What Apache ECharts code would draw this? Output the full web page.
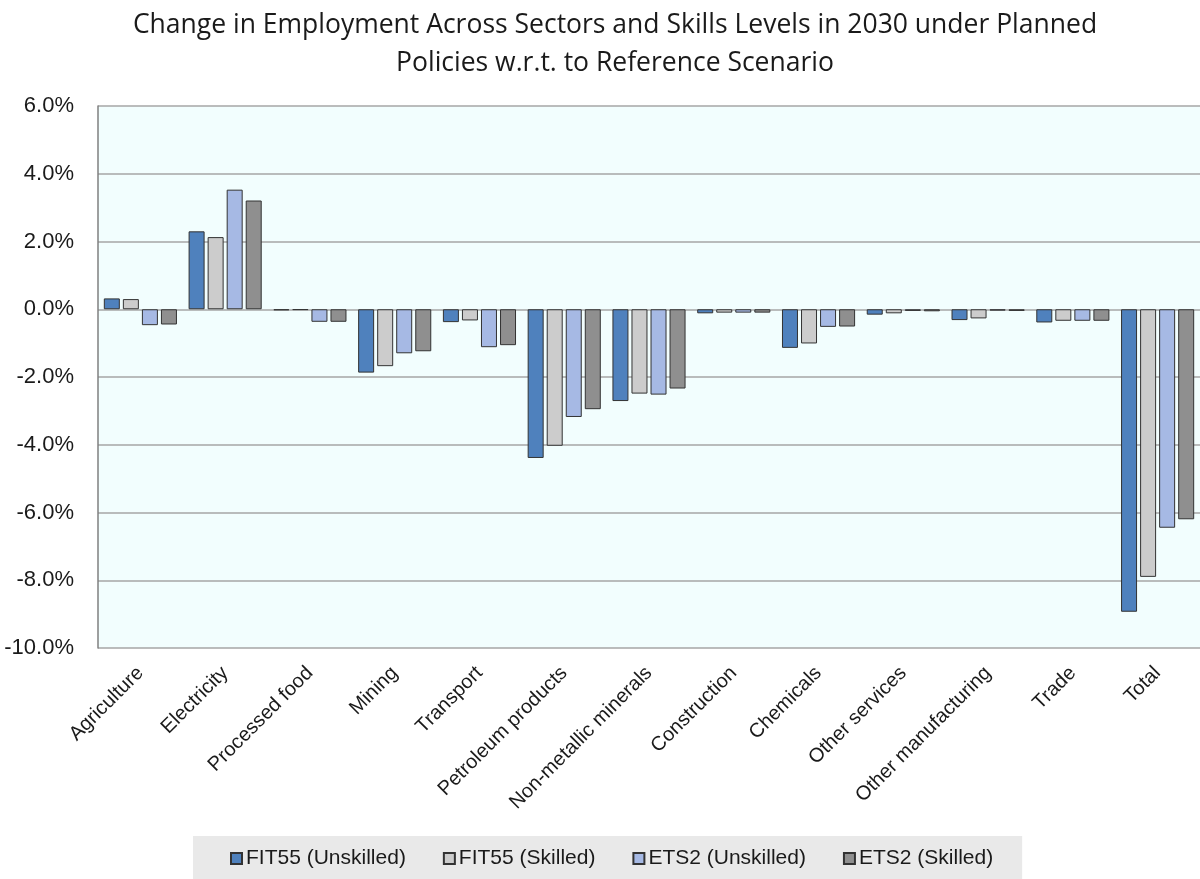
<!DOCTYPE html>
<html>
<head>
<meta charset="utf-8">
<script src="https://cdn.jsdelivr.net/npm/echarts@6/dist/echarts.min.js"></script>
<style>
html,body{margin:0;padding:0;background:#fff;}
#c{width:1200px;height:879px;}
</style>
</head>
<body>
<div id="c"></div>
<script>
const categories = ["Agriculture","Electricity","Processed food","Mining","Transport","Petroleum products","Non-metallic minerals","Construction","Chemicals","Other services","Other manufacturing","Trade","Total"];
const fit55Unskilled = [0.32, 2.30, -0.03, -1.87, -0.38, -4.39, -2.71, -0.12, -1.14, -0.16, -0.32, -0.39, -8.93];
const fit55Skilled   = [0.30, 2.13, -0.02, -1.68, -0.33, -4.03, -2.49, -0.10, -1.01, -0.12, -0.27, -0.34, -7.90];
const ets2Unskilled  = [-0.47, 3.53, -0.37, -1.30, -1.12, -3.18, -2.52, -0.10, -0.52, -0.05, -0.04, -0.34, -6.45];
const ets2Skilled    = [-0.45, 3.21, -0.37, -1.24, -1.06, -2.95, -2.34, -0.10, -0.51, -0.06, -0.05, -0.34, -6.20];
const seriesNames = ["FIT55 (Unskilled)","FIT55 (Skilled)","ETS2 (Unskilled)","ETS2 (Skilled)"];
const seriesColors = ["#4f81bd","#cccccc","#a6b9e4","#8f8f8f"];
const yTicks = {min:-10, max:6, interval:2};

const chart = echarts.init(document.getElementById('c'));
const dataSets = [fit55Unskilled, fit55Skilled, ets2Unskilled, ets2Skilled];
const sans = '"Liberation Sans", Arial, sans-serif';
chart.setOption({
  animation:false,
  backgroundColor:'#ffffff',
  title:{
    text:'Change in Employment Across Sectors and Skills Levels in 2030 under Planned\nPolicies w.r.t. to Reference Scenario',
    left:610, textAlign:'center', top:1,
    textStyle:{fontFamily:'"Open Sans", sans-serif', fontWeight:'normal', fontSize:26.5, color:'#1a1a1a', lineHeight:38}
  },
  legend:{
    data:seriesNames,
    top:836, left:193,
    backgroundColor:'#e9e9e9',
    padding:[12,29,12,37],
    itemWidth:11, itemHeight:11, itemGap:37,
    icon:'rect',
    textStyle:{fontFamily:sans, fontSize:21, color:'#1a1a1a', padding:[0,0,0,-1]}
  },
  grid:{left:98, top:106, width:1105, height:542, containLabel:false, show:true, backgroundColor:'#f2fefe', borderWidth:0},
  xAxis:{
    type:'category', data:categories,
    axisLine:{show:false}, axisTick:{show:false},
    axisLabel:{interval:0, rotate:45, fontFamily:sans, fontSize:20, color:'#1a1a1a', margin:22}
  },
  yAxis:{
    type:'value', min:yTicks.min, max:yTicks.max, interval:yTicks.interval,
    axisLine:{show:true, lineStyle:{color:'#7f7f7f', width:1.5}},
    axisTick:{show:false},
    splitLine:{lineStyle:{color:'#a6a6a6', width:1.5}},
    axisLabel:{formatter:v=>v.toFixed(1)+'%', fontFamily:sans, fontSize:22, color:'#1a1a1a', margin:24}
  },
  series: dataSets.map((d,i)=>({
    name:seriesNames[i], type:'bar', data:d,
    barWidth:16, barGap:'19%',
    itemStyle:{color:seriesColors[i], borderColor:'#333333', borderWidth:1, opacity:1},
    emphasis:{disabled:true}
  }))
});
</script>
</body>
</html>
